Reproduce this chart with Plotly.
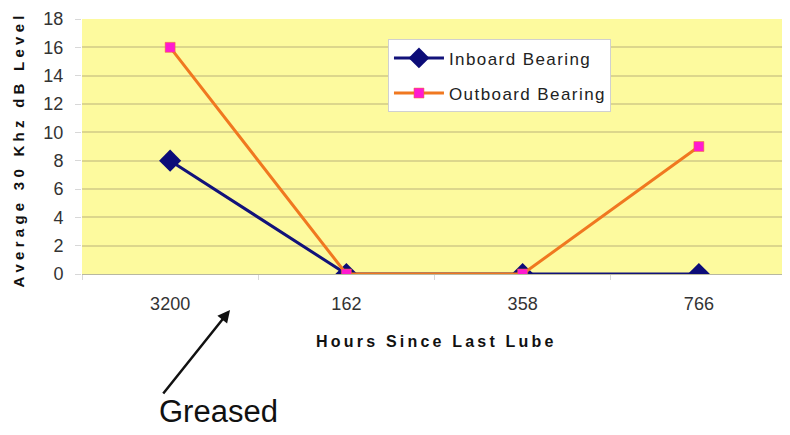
import plotly.graph_objects as go

categories = ["3200", "162", "358", "766"]
inboard = [8, 0, 0, 0]
outboard = [16, 0, 0, 9]
y_ticks = [0, 2, 4, 6, 8, 10, 12, 14, 16, 18]

def spaced(s, sep="\u2009"):
    return sep.join(list(s))

fig = go.Figure()
fig.add_trace(go.Scatter(
    x=categories, y=inboard, name=spaced("Inboard Bearing", "\u200a"), mode="lines+markers",
    legendgroup="a",
    line=dict(color="#12127a", width=3),
    marker=dict(symbol="diamond", size=17, color="#0c0c78"),
))
fig.add_trace(go.Scatter(
    x=categories, y=outboard, name=spaced("Outboard Bearing", "\u200a"), mode="lines+markers",
    legendgroup="b",
    line=dict(color="#f07820", width=3),
    marker=dict(symbol="square", size=10, color="#ff1ad0", line=dict(color="#f07820", width=0.5)),
))

# page body has an 8px margin, so the figure is sized/offset to compensate
fig.update_layout(
    width=782, height=427,
    margin=dict(l=74, r=3, t=11, b=161),
    paper_bgcolor="white",
    plot_bgcolor="#fdfa9e",
    font=dict(family="Liberation Sans, Arial", size=15, color="#333333"),
    showlegend=True,
    legend=dict(
        x=0.434, y=0.92, xanchor="left", yanchor="top",
        bgcolor="white", bordercolor="#d0d0d0", borderwidth=1,
        font=dict(size=17, color="#222222"),
        tracegroupgap=10, itemwidth=50,
    ),
    xaxis=dict(
        type="category", categoryorder="array", categoryarray=categories,
        range=[-0.5, 3.5], showgrid=False, automargin=False,
        ticks="outside", tickson="boundaries", ticklen=5, tickcolor="#d8d8d8",
        showline=True, linecolor="#b8b8a0", linewidth=1,
        tickfont=dict(size=18, color="#333333"),
        ticklabelstandoff=13,
    ),
    yaxis=dict(
        range=[0, 18], tickvals=y_ticks, showgrid=True, gridcolor="#dcd68c", gridwidth=1.5,
        ticks="outside", ticklen=6, tickcolor="#d8d8d8", automargin=False,
        zeroline=False, showline=False,
        tickfont=dict(size=18, color="#333333"),
        ticklabelstandoff=8, ticklabeloverflow="allow",
    ),
)

fig.add_annotation(
    x=0.5, y=-0.266, xref="paper", yref="paper", xanchor="center", yanchor="middle",
    text="<b>" + spaced("Hours Since Last Lube") + "</b>", showarrow=False,
    font=dict(size=16, color="#111111"),
)
fig.add_annotation(
    x=-0.0894, y=0.48, xref="paper", yref="paper", xanchor="center", yanchor="middle",
    text="<b>" + spaced("Average 30 Khz dB Level", "\u2009\u200a") + "</b>", showarrow=False,
    textangle=-90, font=dict(size=15, color="#111111"),
)
fig.add_annotation(
    x=0.21, y=-0.141, xref="paper", yref="paper", text="",
    showarrow=True, axref="pixel", ayref="pixel", ax=-68, ay=85,
    arrowhead=2, arrowsize=1, arrowwidth=2.5, arrowcolor="#111111",
)
fig.add_annotation(
    x=0.193, y=-0.541, xref="paper", yref="paper", xanchor="center", yanchor="middle",
    text="Greased", showarrow=False,
    font=dict(size=31, color="#111111", family="Liberation Sans, Arial"),
)

fig.write_html("out.html")
